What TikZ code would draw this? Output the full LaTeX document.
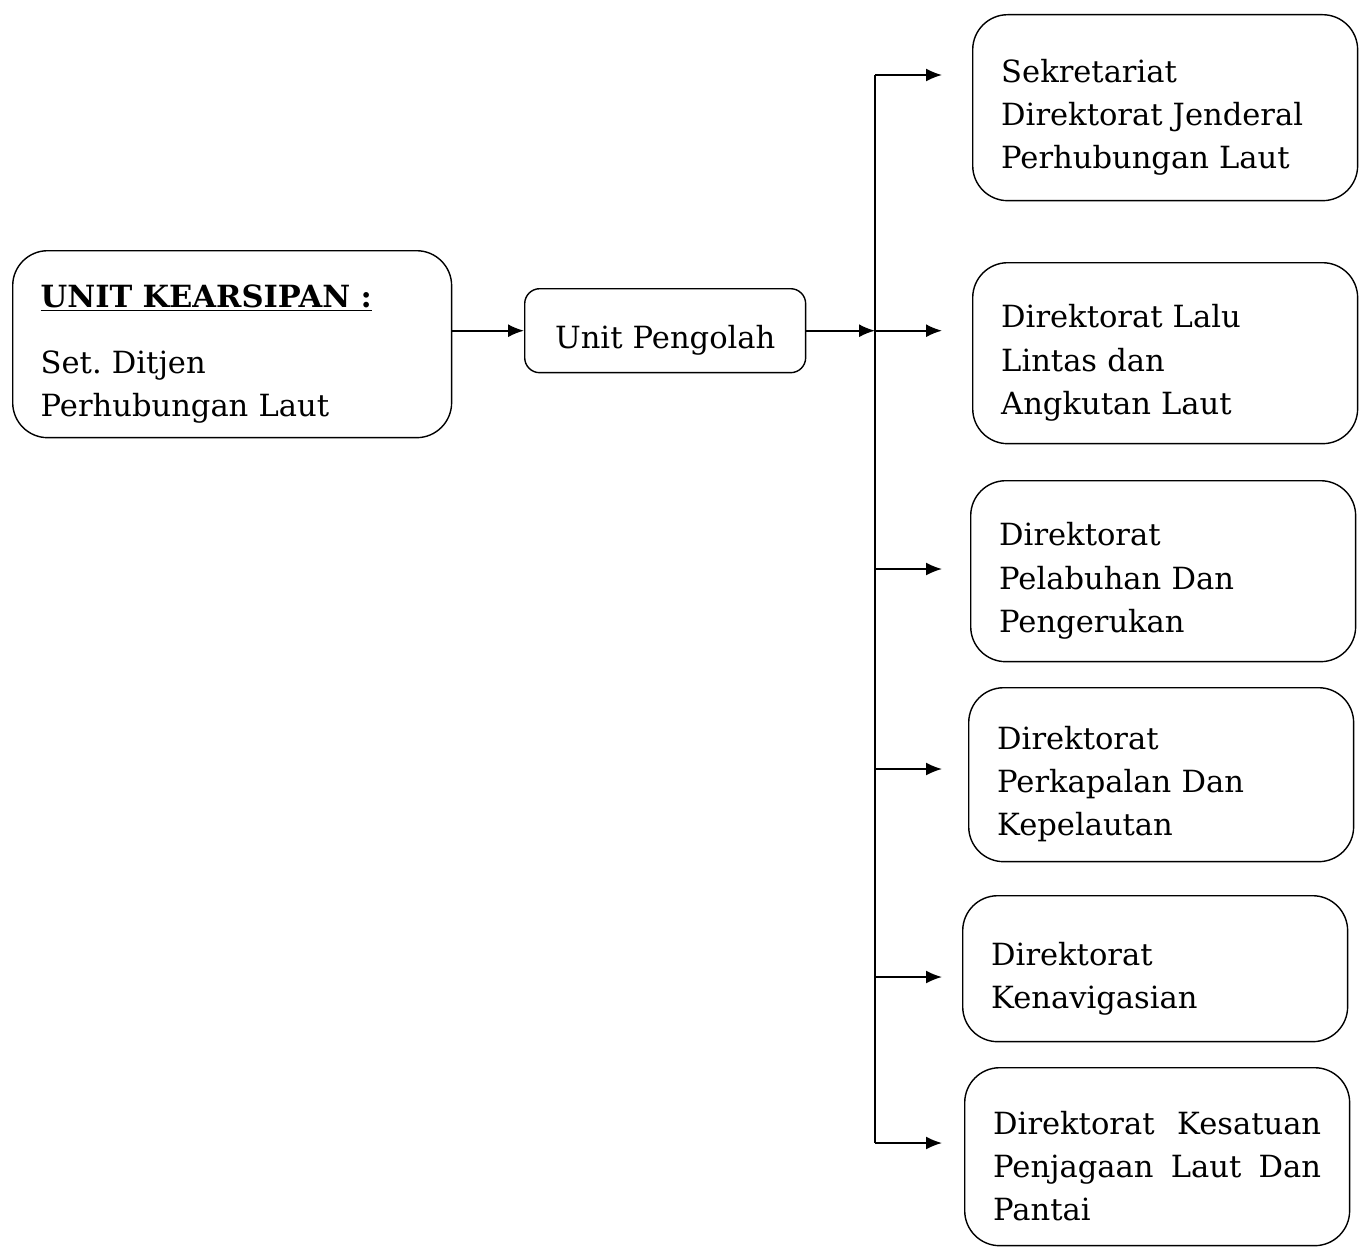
\documentclass[tikz,border=0pt]{standalone}
\usepackage{fontspec}
\setmainfont{DejaVu Serif}
\usetikzlibrary {arrows.meta,
                 calc,
                 positioning}
\tikzset{
        base/.style={draw, line width=0.8pt, align=left, anchor=north west,
                     inner xsep=0.56cm, font=\fontsize{17.4}{24.5}\selectfont,
                     execute at begin node={\rule{0pt}{0.85cm}}},
        unit/.style={base, rounded corners=0.7cm, text width=6.56cm,
                     minimum width=7.7cm},
        myarrow/.style={-{Latex[length=3.2mm, width=2.6mm]}, line width=1pt},
 }

\begin{document}
\begin{tikzpicture}[x=0.02cm, y=-0.02cm]
    \useasboundingbox (0,0) rectangle (1365,1247);

    \node[base, rounded corners=0.7cm, text width=7.66cm, minimum width=8.78cm,
          minimum height=3.74cm] (ka) at (12,250)
          {\underline{\textbf{UNIT KEARSIPAN :}}\\[0.45cm]
           Set.\ Ditjen\\ Perhubungan Laut};
    \node[base, align=center, rounded corners=0.3cm, text width=4.5cm,
          minimum width=5.62cm, minimum height=1.68cm] (up) at (524,288)
          {Unit Pengolah};

    \node[unit, minimum height=3.72cm] (sekr) at (972,14)
          {Sekretariat\\ Direktorat Jenderal\\ Perhubungan Laut};
    \node[unit, minimum height=3.62cm] (lalu) at (972,262)
          {Direktorat Lalu\\ Lintas dan\\ Angkutan Laut};
    \node[unit, minimum height=3.62cm] (pel) at (970,480)
          {Direktorat\\ Pelabuhan Dan\\ Pengerukan};
    \node[unit, minimum height=3.48cm] (kapal) at (968,687)
          {Direktorat\\ Perkapalan Dan\\ Kepelautan};
    \node[unit, minimum height=2.92cm] (navi) at (962,895)
          {Direktorat\\ Kenavigasian};
    \node[unit, minimum height=3.56cm] (kplp) at (964,1067)
          {Direktorat\hfill Kesatuan\\ Penjagaan\hfill Laut\hfill Dan\\ Pantai};

    % titik pada garis tegak
    \coordinate (j1) at (875,75);
    \coordinate (j2) at (up.east -| j1);
    \coordinate (j3) at (875,569);
    \coordinate (j4) at (875,769);
    \coordinate (j5) at (875,977);
    \coordinate (j6) at (875,1143);

    \draw[myarrow] (ka.east |- up.west) -- (up.west);
    \draw[myarrow] (up.east) -- (j2);
    \draw[line width=1pt] (j1) -- (j6);

    \draw[myarrow] (j1) -- ($(j1 -| sekr.west)+(-0.6cm,0)$);
    \draw[myarrow] (j2) -- ($(j2 -| lalu.west)+(-0.6cm,0)$);
    \draw[myarrow] (j3) -- ($(j3 -| pel.west)+(-0.56cm,0)$);
    \draw[myarrow] (j4) -- ($(j4 -| kapal.west)+(-0.52cm,0)$);
    \draw[myarrow] (j5) -- ($(j5 -| navi.west)+(-0.4cm,0)$);
    \draw[myarrow] (j6) -- ($(j6 -| kplp.west)+(-0.44cm,0)$);
\end{tikzpicture}
\end{document}
